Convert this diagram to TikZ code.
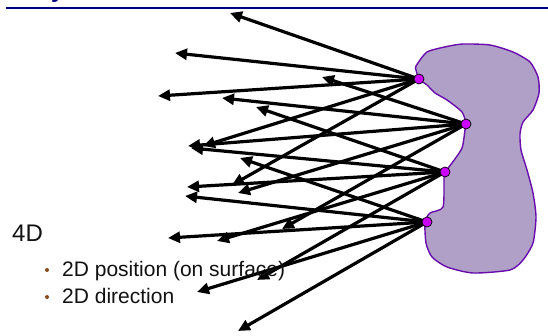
\documentclass[tikz,border=0pt]{standalone}
\usepackage{fontspec}
\setmainfont{Liberation Sans}
\usetikzlibrary{arrows.meta}
\definecolor{cBlob}{HTML}{B0A0C8}
\definecolor{cEdge}{HTML}{6A0DAD}
\definecolor{cDot}{HTML}{CC00FF}
\definecolor{cRule}{HTML}{000080}
\definecolor{cBullet}{HTML}{8B4A1A}
\definecolor{cText}{HTML}{111111}

\begin{document}
\begin{tikzpicture}[x=1pt, y=-1pt,
  ray/.style={-{Triangle[length=12pt,width=11pt]}, line width=3.2pt, draw=black},
  spot/.style={circle, draw=black, line width=0.7pt, fill=cDot, minimum size=10pt, inner sep=0pt},
  txt/.style={anchor=base west, text=cText, inner sep=0pt},
  head/.style={txt, font=\fontsize{24}{28}\selectfont},
  item/.style={txt, font=\fontsize{21}{25}\selectfont},
  bul/.style={circle, fill=cBullet, minimum size=4pt, inner sep=0pt},
]
\useasboundingbox (0,0) rectangle (548,335);

% title rule with the cut-off title letter
\node[anchor=base west, text=cRule, inner sep=0pt, font=\bfseries\fontsize{24}{26}\selectfont] (ttl) at (51,-2.6) {y};
\coordinate (rl) at (6,7.7);
\coordinate (rr) at (548,7.7);
\draw[cRule, line width=2.2pt] (rl) -- (rr);

% surface
\fill[cBlob, draw=cEdge, line width=1.4pt] plot[smooth cycle, tension=0.4] coordinates {
  (416,66) (427,52) (447,46.5) (463,44) (490,45) (513,52) (530,62) (538,77)
  (539,93) (533,110) (523,122) (520,134) (521,150) (527,170) (533,193) (536,217)
  (533,243) (523,260) (510,270) (473,273) (447,267) (432,257) (426,243) (425,222)
  (430,213) (443,207) (444,177) (445,172) (452,163) (462,148) (465,130) (466,124)
  (462,112) (447,100) (435,93) (427,85) (419,79) (416,70)};

% sample points on the surface
\coordinate (s1) at (419,79);
\coordinate (s2) at (466,124);
\coordinate (s3) at (445,172);
\coordinate (s4) at (427,222);

% ray ends
\coordinate (a1) at (230,13);  \coordinate (a2) at (175,53);  \coordinate (a3) at (158,96);
\coordinate (a4) at (203,146); \coordinate (a5) at (232,185);
\coordinate (b1) at (322,77);  \coordinate (b2) at (222,98);  \coordinate (b3) at (188,146);
\coordinate (b4) at (238,193); \coordinate (b5) at (282,229);
\coordinate (c1) at (256,107); \coordinate (c2) at (191,148); \coordinate (c3) at (187,187);
\coordinate (c4) at (217,241); \coordinate (c5) at (257,280);
\coordinate (d1) at (240,158); \coordinate (d2) at (185,196); \coordinate (d3) at (168,238);
\coordinate (d4) at (197,292); \coordinate (d5) at (238,331);

\foreach \t in {a1,a2,a3,a4,a5} \draw[ray] (s1) -- (\t);
\foreach \t in {b1,b2,b3,b4,b5} \draw[ray] (s2) -- (\t);
\foreach \t in {c1,c2,c3,c4,c5} \draw[ray] (s3) -- (\t);
\foreach \t in {d1,d2,d3,d4,d5} \draw[ray] (s4) -- (\t);

\foreach \s in {s1,s2,s3,s4} \node[spot] (dot-\s) at (\s) {};

% text
\node[head] (dim) at (12,241.7) {4D};
\node[bul] (k1) at (47,270) {};
\node[item] (pos) at (62,276) {2D position (on surface)};
\node[bul] (k2) at (47,297) {};
\node[item] (dir) at (62,303) {2D direction};

\end{tikzpicture}
\end{document}
